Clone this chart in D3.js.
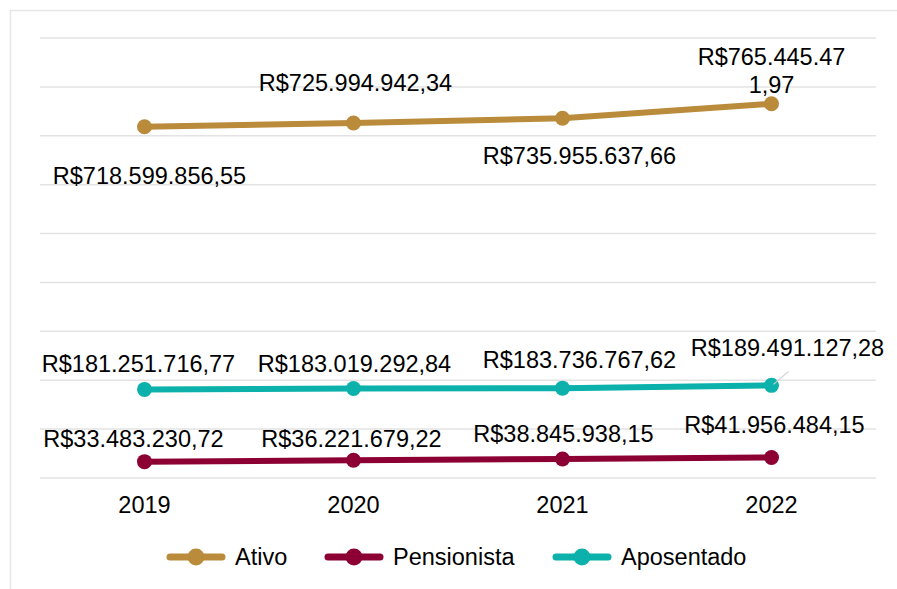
<!DOCTYPE html>
<html><head><meta charset="utf-8">
<script src="https://cdn.jsdelivr.net/npm/d3@7"></script>
<style>body{margin:0;background:#fff;}svg{display:block;font-family:"Liberation Sans",Arial,sans-serif;}</style>
</head><body>
<svg id="c" width="897" height="589"></svg>
<script>
const years = ["2019","2020","2021","2022"];
const ativo = [718599856.55, 725994942.34, 735955637.66, 765445471.97];
const pensionista = [33483230.72, 36221679.22, 38845938.15, 41956484.15];
const aposentado = [181251716.77, 183019292.84, 183736767.62, 189491127.28];
const yTicks = [0,100e6,200e6,300e6,400e6,500e6,600e6,700e6,800e6,900e6];
const seriesNames = ["Ativo","Pensionista","Aposentado"];
const colors = ["#B98B3A","#8C0033","#0BB1AA"];

const fmt = v => "R$" + d3.format(",.2f")(v).replace(/,/g,"#").replace(/\./g,",").replace(/#/g,".");

// label placement (layout only): dx, dy of baseline relative to point
const labelLayout = {
  Ativo: [[5,57],[2,-32],[17,46],[0,-11]],
  Pensionista: [[-11,-15],[-2,-13],[1,-17],[3,-24]],
  Aposentado: [[-6,-17],[1,-17],[17,-20],[16,-29]]
};

const svg = d3.select("#c");
svg.append("rect").attr("x",10.5).attr("y",10.5).attr("width",900).attr("height",600)
  .attr("fill","none").attr("stroke","#e6e6e6").attr("stroke-width",1.5);

const x = d3.scaleBand().domain(years).range([40,876]);
const y = d3.scaleLinear().domain([0,900e6]).range([478,38]);

svg.append("g").selectAll("line").data(yTicks).join("line")
  .attr("x1",40).attr("x2",876).attr("y1",d=>y(d)).attr("y2",d=>y(d))
  .attr("stroke","#e3e3e3").attr("stroke-width",1.5);

const xAxis = d3.axisBottom(x).tickSize(0).tickPadding(0);
const gx = svg.append("g").attr("transform","translate(0,478)").call(xAxis);
gx.select(".domain").remove();
gx.selectAll("text").attr("font-size","23.5px").attr("fill","#000").attr("dy","35px")
  .attr("font-family","Liberation Sans, Arial, sans-serif");

const data = [ativo, pensionista, aposentado];
const line = d3.line().x((d,i)=>x(years[i])+x.bandwidth()/2).y(d=>y(d));

data.forEach((vals,si)=>{
  const g = svg.append("g");
  g.append("path").attr("d",line(vals)).attr("fill","none").attr("stroke",colors[si])
    .attr("stroke-width",6).attr("stroke-linecap","round");
  g.selectAll("circle").data(vals).join("circle")
    .attr("cx",(d,i)=>x(years[i])+x.bandwidth()/2).attr("cy",d=>y(d)).attr("r",7.5)
    .attr("fill",colors[si]);
});

// labels
data.forEach((vals,si)=>{
  const name = seriesNames[si];
  vals.forEach((v,i)=>{
    const px = x(years[i])+x.bandwidth()/2, py = y(v);
    const [dx,dy] = labelLayout[name][i];
    const t = svg.append("text").attr("x",px+dx).attr("y",py+dy)
      .attr("text-anchor","middle").attr("font-size","23.5px").attr("fill","#000");
    const s = fmt(v);
    if(name==="Ativo" && i===3){
      t.append("tspan").attr("x",px+dx).attr("dy",-28).text(s.slice(0,12));
      t.append("tspan").attr("x",px+dx).attr("dy",28).text(s.slice(12));
    } else t.text(s);
    if(name==="Aposentado" && i===3){
      svg.append("line").attr("x1",px+2).attr("y1",py-1).attr("x2",px+17).attr("y2",py-14)
        .attr("stroke","#d0d0d0").attr("stroke-width",1.2);
    }
  });
});

// legend
const legX = [168,326,554];
const lg = svg.append("g");
seriesNames.forEach((n,i)=>{
  const g = lg.append("g").attr("transform",`translate(${legX[i]},557)`);
  g.append("line").attr("x1",2).attr("x2",54).attr("stroke",colors[i]).attr("stroke-width",7).attr("stroke-linecap","round");
  g.append("circle").attr("cx",28).attr("r",8.5).attr("fill",colors[i]);
  g.append("text").attr("x",67).attr("y",8).attr("font-size","23.5px").attr("fill","#000").text(n);
});
</script>
</body></html>
